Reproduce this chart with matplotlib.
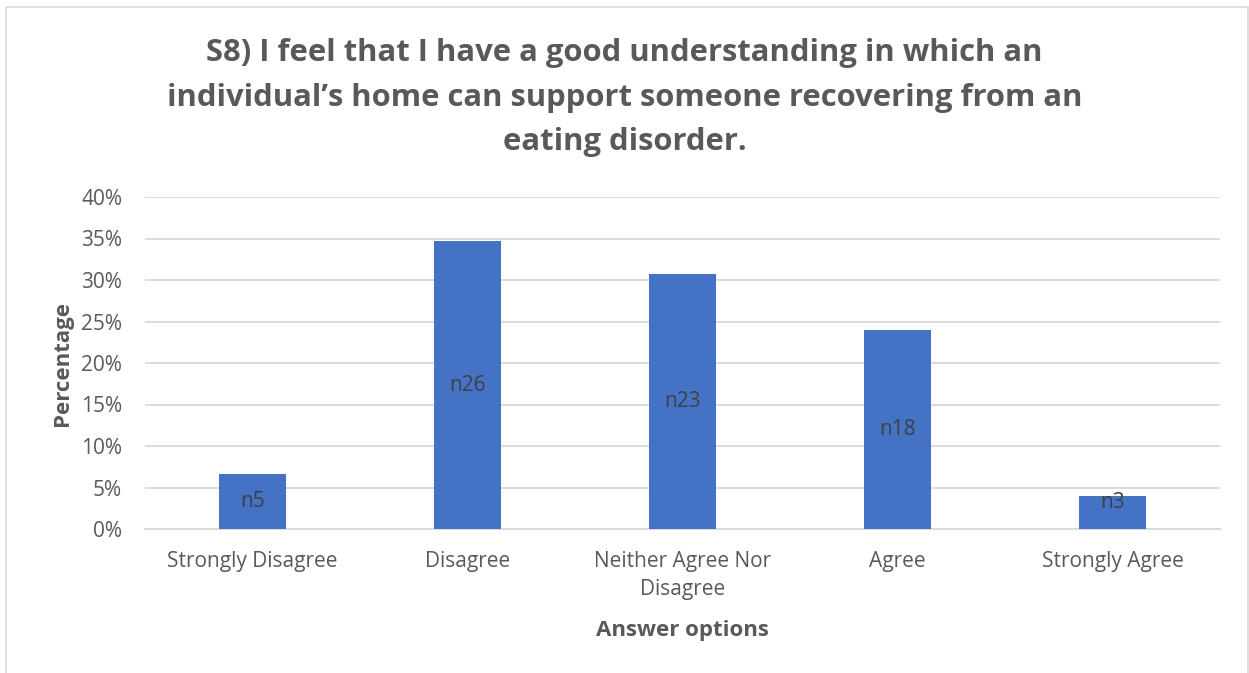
import matplotlib.pyplot as plt
from matplotlib.patches import Rectangle
from matplotlib.ticker import PercentFormatter

# Survey responses for statement S8
categories = ['Strongly Disagree', 'Disagree', 'Neither Agree Nor\nDisagree',
              'Agree', 'Strongly Agree']
counts = [5, 26, 23, 18, 3]
total = sum(counts)
percentages = [100.0 * c / total for c in counts]

title = ('S8) I feel that I have a good understanding in which an\n'
         'individual\u2019s home can support someone recovering from an\n'
         'eating disorder.')

TEXT = '#595959'
BAR = '#4472C4'
GRID = '#D9D9D9'

plt.rcParams['font.family'] = ['Open Sans', 'DejaVu Sans']

fig = plt.figure(figsize=(12.49, 6.73), dpi=100)
W, H = 1249, 673

# thin chart-area frame
fig.patches.append(Rectangle((6 / W, -0.01), (W - 7) / W, 1 - 7 / H + 0.01,
                             transform=fig.transFigure, fill=False,
                             edgecolor='#D9D9D9', linewidth=1.2))

ax = fig.add_axes([145 / W, 1 - 529 / H, 1075 / W, 332 / H])
x = range(len(categories))
bars = ax.bar(x, percentages, width=0.31, color=BAR, zorder=3)

# count labels sit in the middle of each bar, never lower than ~3% so they fit
for rect, n in zip(bars, counts):
    ax.text(rect.get_x() + rect.get_width() / 2, max(rect.get_height() / 2, 3.2),
            f'n{n}', ha='center', va='center', fontsize=15, color='#404040',
            zorder=4)

ax.set_xlim(-0.5, len(categories) - 0.5)
ax.set_ylim(0, 40)
ax.set_yticks(range(0, 41, 5))
ax.yaxis.set_major_formatter(PercentFormatter(decimals=0))
ax.set_xticks(list(x))
ax.set_xticklabels(categories, fontsize=15, color=TEXT, linespacing=1.45)
ax.tick_params(axis='y', labelsize=15, labelcolor=TEXT, length=0, pad=16.5)
ax.tick_params(axis='x', length=0, pad=16)
ax.grid(axis='y', color=GRID, linewidth=1.3, zorder=0)
for side in ('top', 'right', 'left'):
    ax.spines[side].set_visible(False)
ax.spines['bottom'].set_color(GRID)
ax.spines['bottom'].set_linewidth(1.3)

ax.set_ylabel('Percentage', fontsize=16, fontweight='bold', color=TEXT,
              labelpad=6)
ax.set_xlabel('Answer options', fontsize=16, fontweight='bold', color=TEXT,
              labelpad=14)

fig.text(0.5, 1 - 38 / H, title, ha='center', va='top', fontsize=22.3,
         fontweight='bold', color=TEXT, linespacing=1.64)

fig.savefig('out.png', dpi=100, facecolor='white')
